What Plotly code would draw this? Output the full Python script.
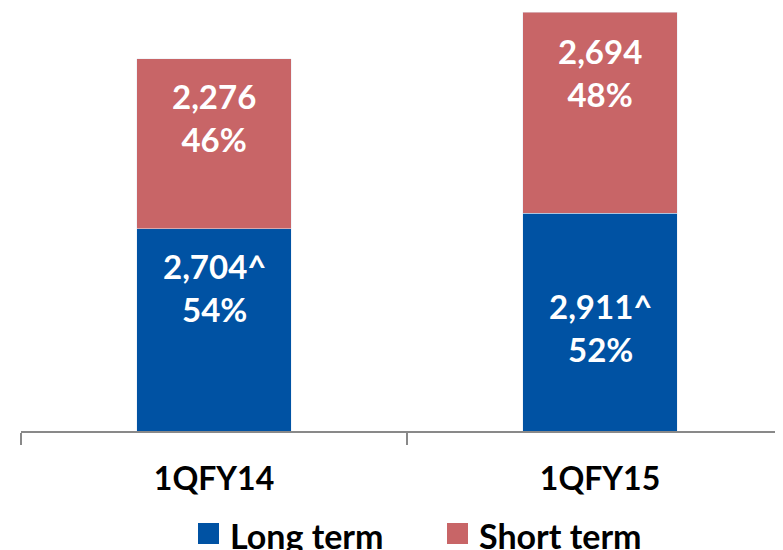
import plotly.graph_objects as go

categories = ["1QFY14", "1QFY15"]
long_term = [2704, 2911]
short_term = [2276, 2694]
long_suffix = ["^", "^"]
short_suffix = ["", ""]
series_names = ["Long term", "Short term"]

BLUE = "#0052A3"
RED = "#C86567"
FONT = "Lato"

# page has an 8px body margin; figure sized to fill the rest
W, H = 775, 542
ML, MB = 13, 119
PW = W - ML
PH = H - MB

fig = go.Figure()
fig.add_trace(go.Bar(x=categories, y=long_term, name=series_names[0], marker_color=BLUE,
                     width=0.4, showlegend=False, hoverinfo="skip"))
fig.add_trace(go.Bar(x=categories, y=short_term, name=series_names[1], marker_color=RED,
                     width=0.4, showlegend=False, hoverinfo="skip"))

# label vertical nudges (pixels) for styling
long_shift = [42, -5]
short_shift = [26, 40]

annotations = []
for i, c in enumerate(categories):
    tot = long_term[i] + short_term[i]
    lp = round(100 * long_term[i] / tot)
    sp = round(100 * short_term[i] / tot)
    annotations.append(dict(x=c, y=long_term[i] / 2, xref="x", yref="y",
                            text=f"{long_term[i]:,}{long_suffix[i]}<br>{lp}%",
                            showarrow=False, yshift=long_shift[i],
                            font=dict(family=FONT, size=33, color="white", weight=700)))
    annotations.append(dict(x=c, y=long_term[i] + short_term[i] / 2, xref="x", yref="y",
                            text=f"{short_term[i]:,}{short_suffix[i]}<br>{sp}%",
                            showarrow=False, yshift=short_shift[i],
                            font=dict(family=FONT, size=33, color="white", weight=700)))

# manual legend (pixel positions relative to plot area)
legend_items = [(series_names[0], BLUE, 177), (series_names[1], RED, 426)]
shapes = []
for name, col, px in legend_items:
    shapes.append(dict(type="rect", xref="paper", yref="paper",
                       x0=px / PW, x1=(px + 21) / PW, y0=-113 / PH, y1=-92 / PH,
                       fillcolor=col, line=dict(width=0)))
    annotations.append(dict(x=(px + 30) / PW, y=-104 / PH, xref="paper", yref="paper",
                            xanchor="left", yanchor="middle", text=name, showarrow=False,
                            font=dict(family=FONT, size=34, color="black", weight=700)))

fig.update_layout(
    barmode="stack",
    width=W, height=H,
    margin=dict(l=ML, r=0, t=0, b=MB, pad=0),
    paper_bgcolor="white", plot_bgcolor="white",
    annotations=annotations,
    shapes=shapes,
    xaxis=dict(type="category", range=[-0.5, 1.474], showline=True, linecolor="#898989",
               linewidth=2, ticks="outside", ticklen=12, tickwidth=1.5, tickcolor="#898989",
               tickson="boundaries", showgrid=False, ticklabelstandoff=19,
               tickfont=dict(family=FONT, size=32, color="black", weight=700)),
    yaxis=dict(range=[0, 5660], showgrid=False, showticklabels=False, zeroline=False,
               showline=False),
)

fig.write_html("out.html")
